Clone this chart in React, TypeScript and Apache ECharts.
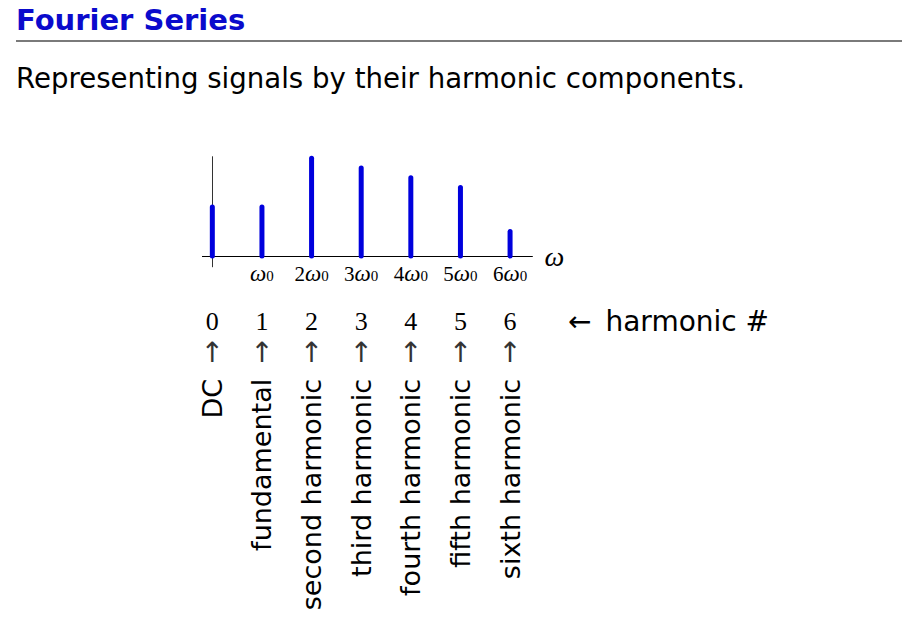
import React, { useEffect, useRef } from "react";
import * as echarts from "echarts";

// ---- data ----
const harmonicNumbers = [0, 1, 2, 3, 4, 5, 6];
const amplitudes = [0.5, 0.5, 1.0, 0.9, 0.8, 0.7, 0.25];
const freqMultipliers = ["", "", "2", "3", "4", "5", "6"];
const harmonicNames = [
  "DC",
  "fundamental",
  "second harmonic",
  "third harmonic",
  "fourth harmonic",
  "fifth harmonic",
  "sixth harmonic",
];
const titleText = "Fourier Series";
const subtitleText = "Representing signals by their harmonic components.";
const axisName = "ω";
const rowCaption = "harmonic #";

const SANS = "DejaVu Sans";
const SERIF = "Liberation Serif";

export default function App() {
  const ref = useRef<HTMLDivElement>(null);

  useEffect(() => {
    if (!ref.current) return;
    const chart = echarts.init(ref.current, null, { renderer: "svg" });

    const xMin = -0.2;
    const xMax = 6.45;
    const freqLabelValues = harmonicNumbers.filter((h) => h > 0);

    const option: any = {
      animation: false,
      backgroundColor: "#ffffff",
      grid: { left: 202.4, top: 156.7, width: 330, height: 110.1, containLabel: false },
      xAxis: [
        {
          type: "value",
          min: xMin,
          max: xMax,
          axisLine: { show: true, onZero: true, lineStyle: { color: "#000", width: 1 } },
          axisTick: { show: false },
          splitLine: { show: false },
          axisLabel: {
            customValues: freqLabelValues,
            interval: 0,
            margin: -3,
            formatter: (v: number) => {
              const i = harmonicNumbers.indexOf(Math.round(v));
              const m = freqMultipliers[i];
              return (m ? `{n|${m}}` : "") + `{w|ω}{s|0}`;
            },
            rich: {
              n: { fontFamily: SERIF, fontSize: 21, color: "#000", lineHeight: 20 },
              w: { fontFamily: SERIF, fontStyle: "italic", fontSize: 23, color: "#000", lineHeight: 20 },
              s: { fontFamily: SERIF, fontSize: 15, color: "#000", lineHeight: 20, verticalAlign: "bottom" },
            },
          },
          name: axisName,
          nameLocation: "end",
          nameGap: 12,
          nameTextStyle: {
            fontFamily: SERIF,
            fontStyle: "italic",
            fontSize: 28,
            color: "#000",
            verticalAlign: "middle",
          },
        },
        {
          type: "value",
          position: "bottom",
          min: xMin,
          max: xMax,
          axisLine: { show: false, onZero: false },
          axisTick: { show: false },
          splitLine: { show: false },
          axisLabel: {
            customValues: harmonicNumbers,
            interval: 0,
            margin: 41,
            formatter: (v: number) => `{n|${Math.round(v)}}\n{a|↑}`,
            rich: {
              n: { fontFamily: SERIF, fontSize: 26, color: "#000", lineHeight: 28 },
              a: { fontFamily: SANS, fontSize: 28, color: "#333", lineHeight: 34 },
            },
          },
        },
        {
          type: "value",
          position: "bottom",
          min: xMin,
          max: xMax,
          axisLine: { show: false, onZero: false },
          axisTick: { show: false },
          splitLine: { show: false },
          axisLabel: {
            customValues: harmonicNumbers,
            interval: 0,
            rotate: 90,
            margin: 112,
            hideOverlap: false,
            fontFamily: SANS,
            fontSize: 27,
            color: "#000",
            formatter: (v: number) => harmonicNames[harmonicNumbers.indexOf(Math.round(v))],
          },
        },
      ],
      yAxis: {
        type: "value",
        min: -0.11,
        max: 1.015,
        axisLine: { show: true, onZero: true, lineStyle: { color: "#333", width: 1 } },
        axisTick: { show: false },
        axisLabel: { show: false },
        splitLine: { show: false },
      },
      series: [
        {
          type: "custom",
          xAxisIndex: 0,
          yAxisIndex: 0,
          data: harmonicNumbers.map((h, i) => [h, amplitudes[i]]),
          renderItem: (params: any, api: any) => {
            const p0 = api.coord([api.value(0), 0]);
            const p1 = api.coord([api.value(0), api.value(1)]);
            return {
              type: "line",
              shape: { x1: p0[0], y1: p0[1], x2: p1[0], y2: p1[1] },
              style: { stroke: "#0000dd", lineWidth: 5, lineCap: "round" },
            };
          },
          z: 5,
        },
      ],
      graphic: [
        {
          type: "text",
          left: 16,
          top: 5,
          style: {
            text: titleText,
            font: `bold 29px "${SANS}"`,
            fill: "#0a0acc",
          },
        },
        {
          type: "line",
          shape: { x1: 16, y1: 41, x2: 902, y2: 41 },
          style: { stroke: "#7a7a7a", lineWidth: 2 },
        },
        {
          type: "text",
          left: 16,
          top: 64,
          style: {
            text: subtitleText,
            font: `27.6px "${SANS}"`,
            fill: "#000",
          },
        },
        {
          type: "text",
          left: 568,
          top: 307,
          style: {
            text: `{a|←}{t|${rowCaption}}`,
            rich: {
              a: { fontFamily: SANS, fontSize: 28, fill: "#000", padding: [0, 14, 0, 0] },
              t: { fontFamily: SANS, fontSize: 28, fill: "#000" },
            },
          },
        },
      ],
    };

    chart.setOption(option);
    return () => chart.dispose();
  }, []);

  return (
    <div
      ref={ref}
      style={{ position: "fixed", left: 0, top: 0, width: 902, height: 642, background: "#fff" }}
    />
  );
}
